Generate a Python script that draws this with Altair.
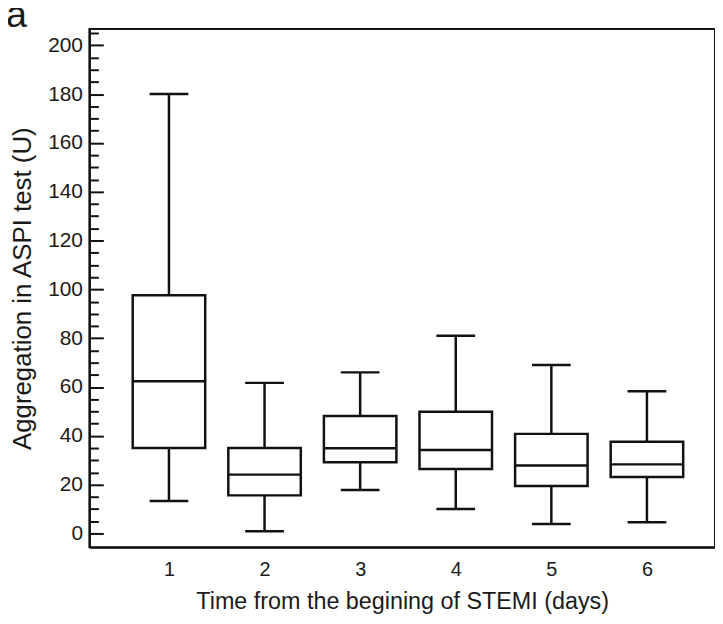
import altair as alt
import pandas as pd

days = [1, 2, 3, 4, 5, 6]
whisker_low = [13.3, 0.9, 17.8, 10.0, 3.9, 4.6]
q1 = [35.0, 15.6, 29.2, 26.4, 19.4, 23.1]
median = [62.4, 24.1, 34.9, 34.2, 27.8, 28.3]
q3 = [97.6, 35.0, 48.1, 49.9, 40.8, 37.6]
whisker_high = [180.1, 61.7, 66.0, 81.0, 69.0, 58.3]

y_label_values = list(range(0, 201, 20))
y_tick_values = list(range(0, 206, 5))
x_label_values = days
panel_label = ["a"]

df = pd.DataFrame({
    "day": days, "lo": whisker_low, "q1": q1, "med": median,
    "q3": q3, "hi": whisker_high,
})

FONT = "Liberation Sans"
INK = "#111111"
TXT = "#1a1a1a"

y_scale = alt.Scale(domain=[-5.7, 206.7], nice=False, zero=False)
x_scale = alt.Scale(domain=[0.22, 6.66], nice=False, zero=False)

x_enc = alt.X(
    "day:Q", scale=x_scale,
    axis=alt.Axis(
        values=x_label_values, format="d", ticks=False, grid=False,
        domain=True, domainColor=INK, domainWidth=2,
        labelFont=FONT, labelFontSize=20, labelColor=TXT, labelPadding=12,
        title="Time from the begining of STEMI (days)",
        titleFont=FONT, titleFontSize=23.5, titleFontWeight="normal",
        titleColor=TXT, titlePadding=11,
    ),
)

y_left_axis = alt.Axis(
    orient="left", values=y_label_values, ticks=False, grid=False,
    domain=True, domainColor=INK, domainWidth=2,
    labelFont=FONT, labelFontSize=21, labelColor=TXT, labelPadding=7,
    title="Aggregation in ASPI test (U)",
    titleFont=FONT, titleFontSize=26, titleFontWeight="normal",
    titleColor=TXT, titlePadding=12,
)

y_tick_axis = alt.Axis(
    orient="right", offset=-630, values=y_tick_values, labels=False,
    domain=False, grid=False, title=None,
    ticks=True, tickColor=INK, tickWidth=2,
    tickSize={"condition": {"test": "datum.value % 20 === 0", "value": 14}, "value": 9},
)

base = alt.Chart(df)

whisk_low = base.mark_rule(color=INK, strokeWidth=2.5).encode(
    x=x_enc, y=alt.Y("lo:Q", scale=y_scale, axis=None), y2="q1:Q")
whisk_high = base.mark_rule(color=INK, strokeWidth=2.5).encode(
    x=x_enc, y=alt.Y("q3:Q", scale=y_scale, axis=None), y2="hi:Q")
boxes = base.mark_bar(orient="vertical", size=73, fill="white", stroke=INK,
                      strokeWidth=2.5).encode(
    x=x_enc, y=alt.Y("q1:Q", scale=y_scale, axis=y_left_axis), y2="q3:Q")
med = base.mark_tick(orient="horizontal", size=73, thickness=2.5, color=INK,
                     opacity=1).encode(
    x=x_enc, y=alt.Y("med:Q", scale=y_scale, axis=y_tick_axis))
cap_low = base.mark_tick(orient="horizontal", size=39, thickness=2.5, color=INK,
                         opacity=1).encode(
    x=x_enc, y=alt.Y("lo:Q", scale=y_scale, axis=None))
cap_high = base.mark_tick(orient="horizontal", size=39, thickness=2.5, color=INK,
                          opacity=1).encode(
    x=x_enc, y=alt.Y("hi:Q", scale=y_scale, axis=None))

label = alt.Chart(pd.DataFrame({"t": panel_label})).mark_text(
    font=FONT, fontSize=38, color=TXT, align="left", baseline="alphabetic"
).encode(text="t:N", x=alt.value(-84), y=alt.value(-2))

chart = alt.layer(
    whisk_low, whisk_high, boxes, med, cap_low, cap_high, label
).resolve_axis(y="independent").properties(
    width=630, height=522,
    autosize=alt.AutoSizeParams(type="none"),
    padding={"left": 82, "top": 19, "right": 0, "bottom": 72},
).configure(background="white").configure_view(stroke=INK, strokeWidth=2)

chart.save("out.html", embed_options={"renderer": "svg", "actions": False})
